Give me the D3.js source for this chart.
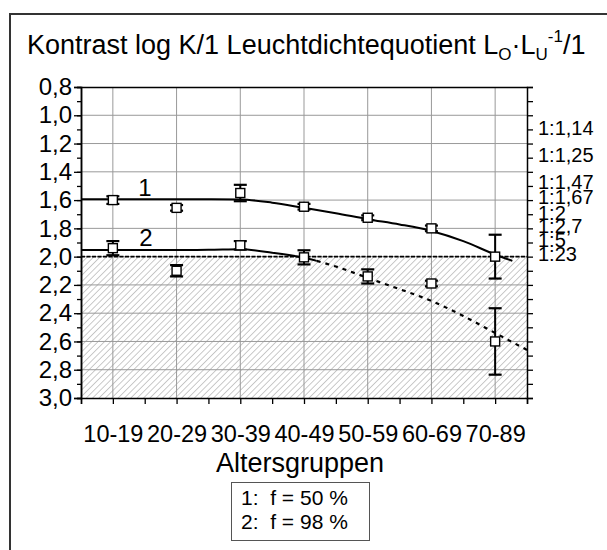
<!DOCTYPE html>
<html>
<head>
<meta charset="utf-8">
<script src="https://cdn.jsdelivr.net/npm/d3@7"></script>
<style>
  body { margin: 0; background: #fff; }
  svg { display: block; font-family: "Liberation Sans", Arial, sans-serif; }
  text { white-space: pre; }
</style>
</head>
<body>
<svg width="607" height="550"></svg>
<script>
var svg = d3.select('svg');

// age groups and measured means / error bars
var groups = ['10-19', '20-29', '30-39', '40-49', '50-59', '60-69', '70-89'];
var mean1 = [1.60, 1.655, 1.55, 1.647, 1.725, 1.80, 2.00];
var err1  = [0.027, 0.02, 0.058, 0.02, 0.017, 0.02, 0.155];
var mean2 = [1.94, 2.10, 1.92, 2.005, 2.14, 2.19, 2.60];
var err2  = [0.05, 0.04, 0.03, 0.05, 0.05, 0.02, 0.235];

// fitted curves (x = group position)
var fit1X = [0.5, 1, 2, 3, 3.5, 4, 4.5, 5, 5.5, 6, 6.5, 7, 7.27];
var fit1Y = [1.594, 1.594, 1.594, 1.596, 1.618, 1.655, 1.693, 1.735, 1.772, 1.818, 1.89, 1.985, 2.03];
var fit2X = [0.5, 1, 2, 2.5, 3, 3.5, 4, 4.2];
var fit2Y = [1.953, 1.953, 1.953, 1.952, 1.948, 1.972, 2.008, 2.03];
var fit2dX = [4.2, 4.5, 5, 5.5, 6, 6.5, 7, 7.5];
var fit2dY = [2.03, 2.07, 2.15, 2.23, 2.313, 2.42, 2.54, 2.66];

var yTicks = [0.8, 1.0, 1.2, 1.4, 1.6, 1.8, 2.0, 2.2, 2.4, 2.6, 2.8, 3.0];
var rightLabels = ['1:1,14', '1:1,25', '1:1,47', '1:1,67', '1:2', '1:2,7', '1:5', '1:23'];
var rightPos = [1.092, 1.281, 1.47, 1.58, 1.689, 1.781, 1.882, 1.981];
var legendRows = ['1:  f = 50 %', '2:  f = 98 %'];

var x = d3.scaleLinear().domain([0.5, 7.5]).range([81, 527]);
var y = d3.scaleLinear().domain([0.8, 3.0]).range([87, 398]);

// outer frame (top + left only visible)
svg.append('path')
    .attr('d', 'M10,552V14H609')
    .attr('fill', 'none')
    .attr('stroke', '#333')
    .attr('stroke-width', 2);

// title
var title = svg.append('text')
    .attr('x', 27)
    .attr('y', 54)
    .attr('font-size', 27)
    .attr('fill', '#000');
title.append('tspan').text('Kontrast log K/1 Leuchtdichtequotient L');
title.append('tspan').attr('font-size', 17).attr('dy', 6).text('O');
title.append('tspan').attr('dy', -6).text('·L');
title.append('tspan').attr('font-size', 17).attr('dy', 6).text('U');
title.append('tspan').attr('font-size', 17).attr('dy', -18).text('-1');
title.append('tspan').attr('dy', 12).text('/1');

// hatched area below 2.0
var defs = svg.append('defs');
var pat = defs.append('pattern')
    .attr('id', 'hatch')
    .attr('patternUnits', 'userSpaceOnUse')
    .attr('width', 4.5)
    .attr('height', 4.5)
    .attr('patternTransform', 'rotate(45)');
pat.append('line')
    .attr('x1', 0).attr('y1', 0)
    .attr('x2', 0).attr('y2', 4.5)
    .attr('stroke', '#8a8a8a')
    .attr('stroke-width', 0.9);

svg.append('rect')
    .attr('x', x(0.5))
    .attr('y', y(2.0))
    .attr('width', x(7.5) - x(0.5))
    .attr('height', y(3.0) - y(2.0))
    .attr('fill', 'url(#hatch)');

// grid
svg.append('g').selectAll('line')
    .data(d3.range(1, 8))
    .enter()
    .append('line')
    .attr('x1', function(d){ return x(d); })
    .attr('x2', function(d){ return x(d); })
    .attr('y1', y(0.8))
    .attr('y2', y(3.0))
    .attr('stroke', '#999')
    .attr('stroke-width', 1);

svg.append('g').selectAll('line')
    .data(yTicks.slice(1, -1))
    .enter()
    .append('line')
    .attr('x1', x(0.5))
    .attr('x2', x(7.5))
    .attr('y1', function(d){ return y(d); })
    .attr('y2', function(d){ return y(d); })
    .attr('stroke', '#999')
    .attr('stroke-width', 1);

// axes
var minorY = d3.range(8, 31).map(function(d){ return d / 10; });

svg.append('g')
    .attr('transform', 'translate(' + x(0.5) + ',0)')
    .call(d3.axisLeft(y).tickValues(minorY).tickSize(4).tickFormat(''));
svg.append('g')
    .attr('transform', 'translate(' + x(0.5) + ',0)')
    .call(d3.axisLeft(y).tickValues(yTicks).tickSize(7).tickPadding(2)
        .tickFormat(function(d){ return d3.format('.1f')(d).replace('.', ','); }))
    .call(function(g){
        g.selectAll('text').attr('font-size', 24).attr('fill', '#000').attr('font-family', null);
    });

svg.append('g')
    .attr('transform', 'translate(' + x(7.5) + ',0)')
    .call(d3.axisRight(y).tickValues(minorY).tickSize(6).tickFormat(''));

svg.append('g')
    .attr('transform', 'translate(0,' + y(0.8) + ')')
    .call(d3.axisTop(x).tickValues([]).tickSizeOuter(0));

svg.append('g')
    .attr('transform', 'translate(0,' + y(3.0) + ')')
    .call(d3.axisBottom(x).tickValues(d3.range(0.5, 7.51, 0.5)).tickSize(6).tickFormat(''));
svg.append('g')
    .attr('transform', 'translate(0,' + y(3.0) + ')')
    .call(d3.axisBottom(x).tickValues(d3.range(1, 8)).tickSize(0).tickPadding(27)
        .tickFormat(function(d){ return groups[d - 1]; }))
    .call(function(g){
        g.select('.domain').remove();
        g.selectAll('text').attr('font-size', 23.5).attr('fill', '#000').attr('font-family', null);
    });

svg.selectAll('.domain').attr('stroke', '#000').attr('stroke-width', 1.5);
svg.selectAll('.tick line').attr('stroke', '#000').attr('stroke-width', 1.3);

// right axis labels
svg.append('g').selectAll('text')
    .data(rightLabels)
    .enter()
    .append('text')
    .attr('x', 538)
    .attr('y', function(d, i){ return y(rightPos[i]); })
    .attr('dy', '0.35em')
    .attr('font-size', 20)
    .text(function(d){ return d; });

// reference line at 2.0
svg.append('line')
    .attr('x1', x(0.5))
    .attr('x2', x(7.5))
    .attr('y1', y(2.0))
    .attr('y2', y(2.0))
    .attr('stroke', '#000')
    .attr('stroke-width', 1.8)
    .attr('stroke-dasharray', '4,1.5');

// fitted curves
var line = d3.line()
    .x(function(d){ return x(d[0]); })
    .y(function(d){ return y(d[1]); })
    .curve(d3.curveMonotoneX);

svg.append('path')
    .attr('d', line(d3.zip(fit1X, fit1Y)))
    .attr('fill', 'none')
    .attr('stroke', '#000')
    .attr('stroke-width', 2);
svg.append('path')
    .attr('d', line(d3.zip(fit2X, fit2Y)))
    .attr('fill', 'none')
    .attr('stroke', '#000')
    .attr('stroke-width', 2);
svg.append('path')
    .attr('d', line(d3.zip(fit2dX, fit2dY)))
    .attr('fill', 'none')
    .attr('stroke', '#000')
    .attr('stroke-width', 2.2)
    .attr('stroke-dasharray', '4,5');

// error bars + markers
function drawSeries(means, errs){
    var g = svg.append('g');
    var pts = means.map(function(m, i){ return {i: i + 1, m: m, e: errs[i]}; });
    g.selectAll('line.v')
        .data(pts)
        .enter()
        .append('line')
        .attr('x1', function(d){ return x(d.i); })
        .attr('x2', function(d){ return x(d.i); })
        .attr('y1', function(d){ return y(d.m - d.e); })
        .attr('y2', function(d){ return y(d.m + d.e); })
        .attr('stroke', '#000')
        .attr('stroke-width', 2);
    ['-', '+'].forEach(function(s){
        g.selectAll('line.c' + (s === '-' ? 'a' : 'b'))
            .data(pts)
            .enter()
            .append('line')
            .attr('x1', function(d){ return x(d.i) - 6.5; })
            .attr('x2', function(d){ return x(d.i) + 6.5; })
            .attr('y1', function(d){ return y(s === '-' ? d.m - d.e : d.m + d.e); })
            .attr('y2', function(d){ return y(s === '-' ? d.m - d.e : d.m + d.e); })
            .attr('stroke', '#000')
            .attr('stroke-width', 2.2);
    });
    g.selectAll('rect')
        .data(pts)
        .enter()
        .append('rect')
        .attr('x', function(d){ return x(d.i) - 4.5; })
        .attr('y', function(d){ return y(d.m) - 4.5; })
        .attr('width', 9)
        .attr('height', 9)
        .attr('fill', '#fff')
        .attr('stroke', '#000')
        .attr('stroke-width', 1.4);
}
drawSeries(mean1, err1);
drawSeries(mean2, err2);

// curve labels
svg.append('text').attr('x', 145).attr('y', 188).attr('dy', '0.35em')
    .attr('text-anchor', 'middle').attr('font-size', 24).text('1');
svg.append('text').attr('x', 146).attr('y', 238).attr('dy', '0.35em')
    .attr('text-anchor', 'middle').attr('font-size', 24).text('2');

// x axis title
svg.append('text')
    .attr('x', 300)
    .attr('y', 472)
    .attr('text-anchor', 'middle')
    .attr('font-size', 27)
    .text('Altersgruppen');

// legend box
svg.append('rect')
    .attr('x', 231.5)
    .attr('y', 482.5)
    .attr('width', 138)
    .attr('height', 58)
    .attr('fill', '#fff')
    .attr('stroke', '#555')
    .attr('stroke-width', 1);

svg.append('g').selectAll('text')
    .data(legendRows)
    .enter()
    .append('text')
    .attr('x', 241)
    .attr('y', function(d, i){ return 505 + i * 24; })
    .attr('font-size', 21)
    .text(function(d){ return d; });
</script>
</body>
</html>
